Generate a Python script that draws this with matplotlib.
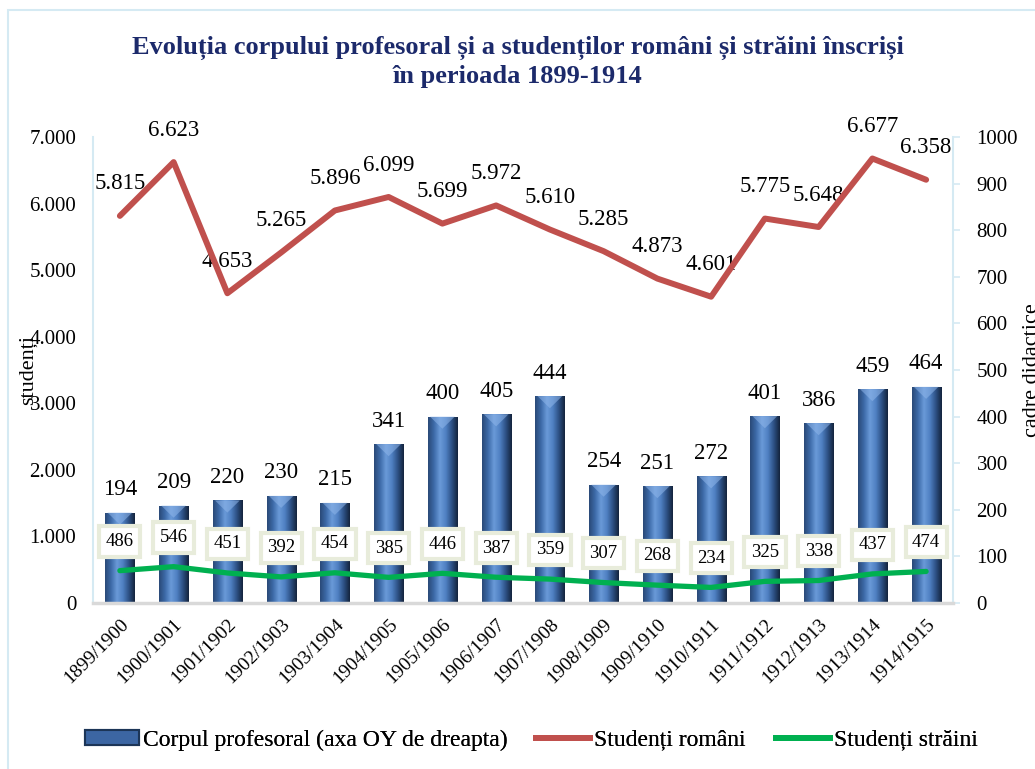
import numpy as np
import matplotlib
matplotlib.use("Agg")
import matplotlib.pyplot as plt
from matplotlib.colors import LinearSegmentedColormap
from matplotlib.patches import Rectangle, Polygon, Patch
from matplotlib.lines import Line2D
from matplotlib.ticker import FuncFormatter

plt.rcParams['font.family'] = ['Liberation Serif', 'DejaVu Serif']

# ---- data ----
years = ["1899/1900", "1900/1901", "1901/1902", "1902/1903", "1903/1904", "1904/1905",
         "1905/1906", "1906/1907", "1907/1908", "1908/1909", "1909/1910", "1910/1911",
         "1911/1912", "1912/1913", "1913/1914", "1914/1915"]
profesori = [194, 209, 220, 230, 215, 341, 400, 405, 444, 254, 251, 272, 401, 386, 459, 464]
romani = [5815, 6623, 4653, 5265, 5896, 6099, 5699, 5972, 5610, 5285, 4873, 4601, 5775, 5648, 6677, 6358]
straini = [486, 546, 451, 392, 454, 385, 446, 387, 359, 307, 268, 234, 325, 338, 437, 474]

RED = '#c0504d'
GREEN = '#00b050'
NAVY = '#1c2a6b'
FRAME = '#d5eaf3'


def thousands(v, pos=None):
    return f"{int(v):,}".replace(",", ".")


fig = plt.figure(figsize=(10.35, 7.69), dpi=100)

# light outer frame of the chart area
fig.add_artist(Rectangle((8 / 1035, -0.02), 1.1, 1 - 10 / 769 + 0.02, transform=fig.transFigure,
                         fill=False, ec=FRAME, lw=1.5))

ax = fig.add_axes([93 / 1035, 1 - 603 / 769, 860 / 1035, 466 / 769])
ax2 = ax.twinx()
ax.set_zorder(ax2.get_zorder() + 1)
ax.patch.set_visible(False)

x = np.arange(len(years))
w = 0.54

# ---- bars (right axis) with a cylinder-like gradient ----
cmap = LinearSegmentedColormap.from_list(
    'bar', ['#2a4a78', '#3d6aa8', '#6a9ad8', '#4f80c2', '#2d5185', '#14243d'])
grad = np.linspace(0, 1, 80).reshape(1, -1)
for xi, v in zip(x, profesori):
    rect = Rectangle((xi - w / 2, 0), w, v, fc='none', ec='none')
    ax2.add_patch(rect)
    im = ax2.imshow(grad, extent=(xi - w / 2, xi + w / 2, 0, v), cmap=cmap,
                    aspect='auto', zorder=2, interpolation='bilinear')
    im.set_clip_path(rect)
    tri = Polygon([(xi - w / 2 + 0.04, v), (xi + w / 2 - 0.04, v), (xi, v - 26)],
                  closed=True, fc='#8fb6ea', ec='none', alpha=0.55, zorder=3)
    ax2.add_patch(tri)
    ax2.annotate(str(v), (xi, v), xytext=(0, 9), textcoords='offset points',
                 ha='center', va='bottom', fontsize=16.5)

ax2.set_ylim(0, 1000)
ax2.set_yticks(np.arange(0, 1001, 100))
ax2.set_xlim(-0.5, len(years) - 0.5)

# ---- lines (left axis) ----
ax.plot(x, romani, color=RED, lw=4.3, solid_joinstyle='round', solid_capstyle='round', zorder=4)
ax.plot(x, straini, color=GREEN, lw=3.8, solid_joinstyle='round', solid_capstyle='round', zorder=4)

for xi, v in zip(x, romani):
    ax.annotate(thousands(v), (xi, v), xytext=(0, 23), textcoords='offset points',
                ha='center', va='center', fontsize=16.5)
for xi, v in zip(x, straini):
    ax.annotate(str(v), (xi, v), xytext=(0, 21), textcoords='offset points',
                ha='center', va='center', fontsize=13.5, zorder=6,
                bbox=dict(boxstyle='square,pad=0.35', fc='white', ec='#e8ecdb', lw=3))

ax.set_ylim(0, 7000)
ax.set_yticks(np.arange(0, 7001, 1000))
ax.yaxis.set_major_formatter(FuncFormatter(thousands))
ax.set_xlim(-0.5, len(years) - 0.5)
ax.set_xticks(x)
ax.set_xticklabels(years, rotation=45, ha='right', rotation_mode='anchor', fontsize=14)

# ---- axes styling ----
for a in (ax, ax2):
    a.spines['top'].set_visible(False)
ax.spines['right'].set_visible(False)
ax2.spines['left'].set_visible(False)
ax2.spines['bottom'].set_visible(False)
ax.spines['left'].set_color(FRAME)
ax.spines['left'].set_linewidth(1.5)
ax.spines['bottom'].set_color('#d9d9d9')
ax.spines['bottom'].set_linewidth(2.5)
ax2.spines['right'].set_color(FRAME)
ax2.spines['right'].set_linewidth(1.5)

ax.tick_params(axis='y', length=0, pad=12, labelsize=15)
ax.tick_params(axis='x', length=0, pad=9)
ax2.tick_params(axis='y', length=5, width=1.2, color=FRAME, pad=12, labelsize=15)

# ---- titles / axis names ----
fig.text(0.5, 1 - 62 / 769,
         "Evoluția corpului profesoral și a studenților români și străini înscriși\nîn perioada 1899-1914",
         ha='center', va='center', fontsize=19, fontweight='bold', color=NAVY, linespacing=1.25)
fig.text(28 / 1035, 1 - 370 / 769, "studenți", rotation=90, ha='center', va='center', fontsize=16)
fig.text(1023 / 1035, 1 - 370 / 769, "cadre didactice", rotation=90, ha='left', va='center', fontsize=16)

# ---- legend (three entries placed like the original) ----
handles = [Patch(fc='#3c66a3', ec='#1c3557', lw=1.5),
           Line2D([0], [0], color=RED, lw=4.3),
           Line2D([0], [0], color=GREEN, lw=4.3)]
labels = ["Corpul profesoral (axa OY de dreapta)", "Studenți români", "Studenți străini"]
starts = [85, 536, 776]
for h, lab, xs in zip(handles, labels, starts):
    leg = fig.legend([h], [lab], loc='center left', bbox_to_anchor=(xs / 1035, 1 - 740 / 769),
                     frameon=False, fontsize=17, handlelength=2.3, handleheight=0.6,
                     handletextpad=0.15, borderpad=0, borderaxespad=0)
    fig.add_artist(leg)

fig.savefig("out.png", dpi=100)
